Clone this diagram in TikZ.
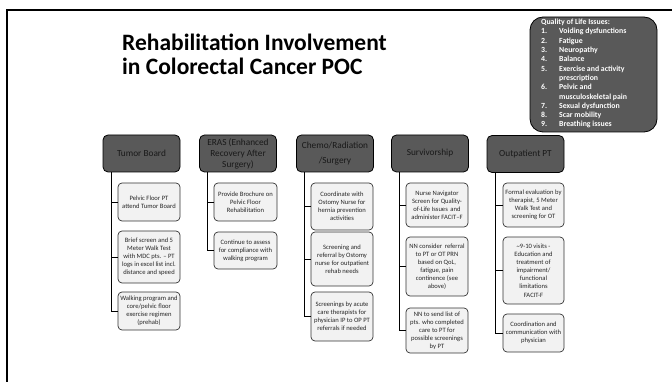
\documentclass[tikz,border=0pt]{standalone}
\usepackage{fontspec}
\setmainfont{Carlito}
\definecolor{hdrgray}{HTML}{595959}
\definecolor{kidfill}{HTML}{F2F2F2}
\definecolor{kidtext}{HTML}{262626}
\begin{document}
\begin{tikzpicture}[x=1pt,y=-1pt,
  hdr/.style={draw=black,line width=0.8pt,fill=hdrgray,rounded corners=5pt,
    minimum width=77pt,minimum height=37pt,inner sep=1pt,align=center,
    font=\fontsize{9.3}{11}\selectfont,text=black!90},
  kid/.style={draw=black!80,line width=0.7pt,fill=kidfill,rounded corners=4pt,
    minimum width=62pt,inner sep=0.5pt,align=center,
    font=\fontsize{6.6}{8}\selectfont,text=kidtext},
  link/.style={draw=black,line width=0.8pt}]
\useasboundingbox (0,0) rectangle (672,382);
% slide frame
\draw[line width=2pt] (7,382) -- (7,10) -- (672,10);
% title
\node[anchor=base west,inner sep=0pt,font=\fontsize{23.5}{23.5}\selectfont\bfseries] (t1) at (122,51) {Rehabilitation Involvement};
\node[anchor=base west,inner sep=0pt,font=\fontsize{23.5}{23.5}\selectfont\bfseries] (t2) at (122,75) {in Colorectal Cancer POC};
% quality box
\draw[fill=hdrgray,draw=black,line width=0.8pt,rounded corners=13pt] (530,17) rectangle (657,132);
\node[anchor=north west,inner sep=0pt,text=white,align=left,
  font=\fontsize{7.8}{9.3}\selectfont\bfseries] (q) at (541,19) {%
Quality of Life Issues:\\
\makebox[18pt][l]{1.}Voiding dysfunctions\\
\makebox[18pt][l]{2.}Fatigue\\
\makebox[18pt][l]{3.}Neuropathy\\
\makebox[18pt][l]{4.}Balance\\
\makebox[18pt][l]{5.}Exercise and activity\\
\makebox[18pt][l]{}prescription\\
\makebox[18pt][l]{6.}Pelvic and\\
\makebox[18pt][l]{}musculoskeletal pain\\
\makebox[18pt][l]{7.}Sexual dysfunction\\
\makebox[18pt][l]{8.}Scar mobility\\
\makebox[18pt][l]{9.}Breathing issues};
% headers
\node[hdr] (h1) at (141.5,153.5) {Tumor Board};
\node[hdr] (h2) at (238,153.5) {ERAS (Enhanced\\Recovery After\\Surgery)};
\node[hdr,font=\fontsize{9.3}{15}\selectfont] (h3) at (335,153.5) {Chemo/Radiation\\/Surgery};
\node[hdr] (h4) at (430,153.5) {Survivorship};
\node[hdr] (h5) at (525.5,154) {Outpatient PT};
% children: Tumor Board
\node[kid,minimum height=38pt] (c11) at (149,202) {Pelvic Floor PT\\attend Tumor Board};
\node[kid,minimum height=52pt] (c12) at (149,257) {Brief screen and 5\\Meter Walk Test\\with MDC pts. -- PT\\logs in excel list incl.\\distance and speed};
\node[kid,minimum height=38pt] (c13) at (149,311) {Walking program and\\core/pelvic floor\\exercise regimen\\(prehab)};
% ERAS
\node[kid,minimum height=38pt,minimum width=63pt] (c21) at (245.5,202) {Provide Brochure on\\Pelvic Floor\\Rehabilitation};
\node[kid,minimum height=37pt,minimum width=63pt] (c22) at (245.5,250.5) {Continue to assess\\for compliance with\\walking program};
% Chemo
\node[kid,minimum height=47pt] (c31) at (342,206.5) {Coordinate with\\Ostomy Nurse for\\hernia prevention\\activities};
\node[kid,minimum height=54pt] (c32) at (342,259) {Screening and\\referral by Ostomy\\nurse for outpatient\\rehab needs};
\node[kid,minimum height=49pt] (c33) at (342,316.5) {Screenings by acute\\care therapists for\\physician IP to OP PT\\referrals if needed};
% Survivorship
\node[kid,minimum height=44pt] (c41) at (437,205) {Nurse Navigator\\Screen for Quality-\\of-Life Issues\, and\\administer FACIT--F};
\node[kid,minimum height=59pt] (c42) at (437,266.5) {NN consider\, referral\\to PT or OT PRN\\based on QoL,\\fatigue, pain\\continence (see\\above)};
\node[kid,minimum height=45pt] (c43) at (437,330.5) {NN to send list of\\pts. who completed\\care to PT for\\possible screenings\\by PT};
% Outpatient
\node[kid,minimum height=44pt,minimum width=61pt] (c51) at (533.5,205) {Formal evaluation by\\therapist, 5 Meter\\Walk Test and\\screening for OT};
\node[kid,minimum height=67pt,minimum width=61pt] (c52) at (533.5,270.5) {\textasciitilde9-10 visits -\\Education and\\treatment of\\impairment/\\functional\\limitations\\[1pt]FACIT-F};
\node[kid,minimum height=38pt,minimum width=61pt] (c53) at (533.5,333) {Coordination and\\communication with\\physician};
% connectors
\foreach \h/\k in {h1/c11,h1/c12,h1/c13,h2/c21,h2/c22,h3/c31,h3/c32,h3/c33,h4/c41,h4/c42,h4/c43,h5/c51,h5/c52,h5/c53}
  \draw[link] ([xshift=8.5pt]\h.south west) |- (\k.west);
\end{tikzpicture}
\end{document}
